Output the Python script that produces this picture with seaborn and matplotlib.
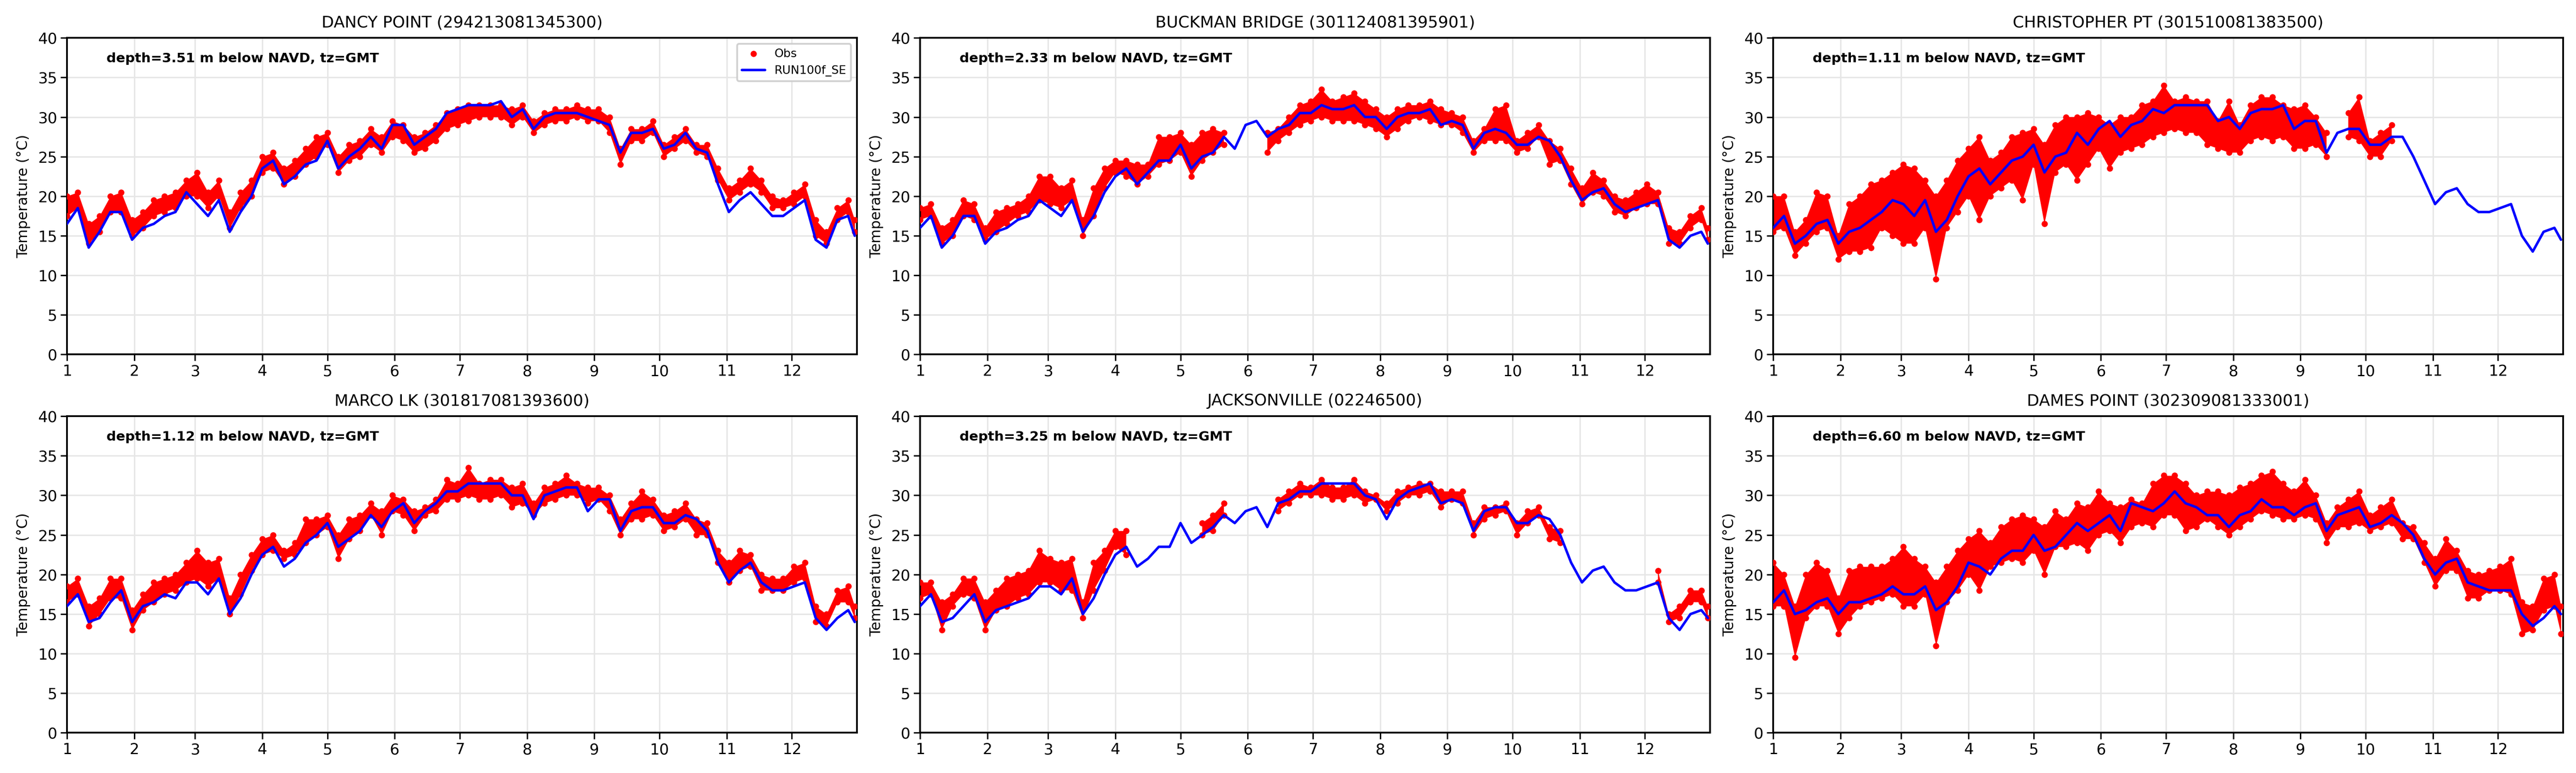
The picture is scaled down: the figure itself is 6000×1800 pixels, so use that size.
import numpy as np
import pandas as pd
import matplotlib
matplotlib.use('Agg')
import matplotlib.pyplot as plt
import matplotlib.dates as mdates
import matplotlib.ticker as mticker
import seaborn as sns

nan = np.nan

# Sample days (day of year, 0 = Jan 1), 5-day spacing
days = list(range(0, 361, 5)) + [363]

station_names = ['DANCY POINT (294213081345300)', 'BUCKMAN BRIDGE (301124081395901)',
                 'CHRISTOPHER PT (301510081383500)', 'MARCO LK (301817081393600)',
                 'JACKSONVILLE (02246500)', 'DAMES POINT (302309081333001)']
depths = [3.51, 2.33, 1.11, 1.12, 3.25, 6.60]

# ---- Dancy Point
dancy_model = [16.5, 18.5, 13.5, 15.5, 18, 18, 14.5, 16, 16.5, 17.5,
               18, 20.5, 19, 17.5, 19.5, 15.5, 18, 20, 23.5, 24.5,
               21.5, 22.5, 24, 24.5, 27, 23.5, 25, 26, 27.5, 26,
               29, 29, 26.5, 27.5, 28.5, 30.5, 31, 31.5, 31.5, 31.5,
               32, 30, 31, 28.5, 30, 30.5, 30.5, 30.5, 30, 29.5,
               29, 25.5, 28, 28, 28.5, 26, 26.5, 28, 26, 25.5,
               21.5, 18, 19.5, 20.5, 19, 17.5, 17.5, 18.5, 19.5, 14.5,
               13.5, 17, 17.5, 15]
dancy_obs_lo = [17.5, 18.5, 14, 15.5, 18, 18, 15, 16, 17.5, 18,
                18.5, 20, 20, 18.5, 20, 16, 18.5, 20, 23, 23.5,
                21.5, 22.5, 24, 25, 26.5, 23, 24.5, 25, 26.5, 25.5,
                27.5, 27, 25.5, 26, 27, 28.5, 29, 29.5, 30, 30,
                30, 29, 30, 28, 29, 29.5, 29.5, 30, 29.5, 29.5,
                28, 24, 27, 27, 28, 25, 26, 27, 25.5, 25,
                22, 19.5, 20.5, 21.5, 20.5, 18.5, 18.5, 19, 20, 15,
                14, 17, 18, 15.5]
dancy_obs_hi = [20, 20.5, 16.5, 17.5, 20, 20.5, 17, 18, 19.5, 20,
                20.5, 22, 23, 20.5, 22, 18, 20.5, 22, 25, 25.5,
                23.5, 24.5, 26, 27.5, 28, 25, 26.5, 27, 28.5, 27.5,
                29.5, 29, 27.5, 28, 29, 30.5, 31, 31.5, 31.5, 31.5,
                31.5, 31, 31.5, 29.5, 30.5, 31, 31, 31.5, 31, 31,
                30, 26, 28.5, 28.5, 29.5, 26.5, 27.5, 28.5, 26.5, 26.5,
                23.5, 21, 22, 23.5, 22, 20, 19.5, 20.5, 21.5, 17,
                15.5, 18.5, 19.5, 17]

# ---- Buckman Bridge
buckman_model = [16, 17.5, 13.5, 15, 17.5, 17.5, 14, 15.5, 16, 17,
                 17.5, 19.5, 18.5, 17.5, 19.5, 15.5, 17.5, 20.5, 22.5, 23.5,
                 21.5, 23, 24.5, 24.5, 26.5, 23.5, 25, 25.5, 27.5, 26,
                 29, 29.5, 27.5, 28.5, 29, 30.5, 30.5, 31.5, 31, 31,
                 31.5, 30, 30, 28.5, 30, 30.5, 30.5, 31, 29, 29.5,
                 29, 26, 28, 28.5, 28, 26.5, 26.5, 27.5, 27, 25,
                 22, 19.5, 20.5, 21, 19, 18, 18.5, 19, 19.5, 14.5,
                 13.5, 15, 15.5, 14]
buckman_obs_lo = [17, 17.5, 14, 15, 17.5, 17, 14.5, 15.5, 16.5, 17.5,
                  18, 19.5, 19, 18.5, 19.5, 15, 17.5, 21, 23, 22.5,
                  21.5, 22.5, 24, 24.5, 25.5, 22.5, 24.5, 25.5, 26.5, nan,
                  nan, nan, 25.5, 27, 28, 29, 29.5, 30, 29.5, 29.5,
                  29.5, 29, 28.5, 27.5, 28.5, 29.5, 30, 29.5, 29, 29,
                  28, 25.5, 27, 27, 27, 25.5, 26, 27.5, 24, 24.5,
                  21.5, 19, 20.5, 20, 18, 17.5, 18.5, 19, 19, 14,
                  14, 16, 17, 14.5]
buckman_obs_hi = [18.5, 19, 16, 17, 19.5, 19, 16, 18, 18.5, 19,
                  20, 22.5, 22.5, 21, 22, 17, 21, 23.5, 24.5, 24.5,
                  24, 24, 27.5, 27.5, 28, 26.5, 28, 28.5, 28, nan,
                  nan, nan, 28, 28.5, 30, 31.5, 32, 33.5, 32, 32.5,
                  33, 32, 31, 30, 31, 31.5, 31.5, 32, 31, 30.5,
                  30, 27, 28.5, 31, 31.5, 27, 28, 29, 27, 26,
                  23.5, 21, 23, 22, 20, 19.5, 20.5, 21.5, 20.5, 16,
                  15.5, 17.5, 18.5, 16]

# ---- Christopher Pt
christopher_model = [16, 17.5, 14, 15, 16.5, 17, 14, 15.5, 16, 17,
                     18, 19.5, 19, 17.5, 19.5, 15.5, 17, 20, 22.5, 23.5,
                     21.5, 23, 24.5, 25, 26.5, 23, 25, 25.5, 28, 26.5,
                     28.5, 29.5, 27.5, 29, 29.5, 31, 30.5, 31.5, 31.5, 31.5,
                     31.5, 29.5, 30, 28.5, 30.5, 31, 31, 31.5, 28.5, 29.5,
                     29.5, 25.5, 28, 28.5, 28.5, 26.5, 26.5, 27.5, 27.5, 25,
                     22, 19, 20.5, 21, 19, 18, 18, 18.5, 19, 15,
                     13, 15.5, 16, 14.5]
christopher_obs_lo = [15.5, 16, 12.5, 14, 15.5, 16, 12, 13, 13, 13.5,
                      16, 15, 14, 14, 16, 9.5, 16, 18, 20, 17,
                      20, 21, 22, 19.5, 24, 16.5, 23, 24, 22, 24,
                      26, 23.5, 25.5, 26, 26.5, 27.5, 28, 28.5, 28, 28,
                      26.5, 26, 25.5, 25.5, 27, 27.5, 27, 27.5, 26, 26,
                      26.5, 25, nan, 27.5, 27, 25, 25, 27, nan, nan,
                      nan, nan, nan, nan, nan, nan, nan, nan, nan, nan,
                      nan, nan, nan, nan]
christopher_obs_hi = [20, 20, 15.5, 17, 20.5, 20, 15, 19, 20, 21.5,
                      22, 23, 24, 23.5, 22, 20, 22, 24.5, 26, 27.5,
                      24.5, 25.5, 27.5, 28, 28.5, 26.5, 29, 30, 30, 30.5,
                      30, 29, 30, 30, 31.5, 32, 34, 32, 32.5, 32,
                      32, 29.5, 32, 29, 31.5, 32.5, 32.5, 31.5, 31, 31.5,
                      30, 28, nan, 30.5, 32.5, 27, 28, 29, nan, nan,
                      nan, nan, nan, nan, nan, nan, nan, nan, nan, nan,
                      nan, nan, nan, nan]

# ---- Marco Lk
marco_model = [16, 17.5, 14, 14.5, 16.5, 18, 14, 16, 16.5, 17.5,
               17, 19, 19, 17.5, 19.5, 15, 17, 20, 22.5, 23.5,
               21, 22, 24, 25, 26.5, 23.5, 24.5, 25.5, 27.5, 26,
               28, 29, 26.5, 28, 29, 30.5, 30.5, 31.5, 31.5, 31.5,
               31.5, 30, 30, 27, 30, 30.5, 31, 31, 28, 29.5,
               29.5, 25.5, 28, 28.5, 28.5, 26.5, 26.5, 27.5, 27, 25.5,
               21.5, 19, 20.5, 21.5, 19, 18, 18, 18.5, 19, 14.5,
               13, 14.5, 15.5, 14]
marco_obs_lo = [16.5, 17.5, 13.5, 15, 17, 17, 13, 15.5, 16.5, 17.5,
                18, 19, 19.5, 18.5, 19.5, 15, 17.5, 20.5, 22.5, 23,
                22, 22.5, 24, 25, 26, 22, 24.5, 25.5, 27.5, 25,
                28, 27.5, 25.5, 27.5, 28, 29.5, 29.5, 30, 29.5, 29.5,
                30, 28.5, 29, 27.5, 29, 29.5, 30, 30, 29, 29.5,
                28, 25, 27, 27, 27.5, 25.5, 26, 27, 25, 25,
                21.5, 19, 20.5, 21, 18, 18, 18, 19, 19.5, 14,
                13.5, 16.5, 16.5, 14.5]
marco_obs_hi = [18.5, 19.5, 16, 17, 19.5, 19.5, 15.5, 17.5, 19, 19.5,
                20, 21.5, 23, 21.5, 22, 17, 20, 22.5, 24.5, 25,
                23, 24, 27, 27, 27.5, 25, 27, 27.5, 29, 28,
                30, 29.5, 28, 28.5, 29.5, 32, 31.5, 33.5, 31.5, 32,
                32, 31, 31.5, 29, 31, 31.5, 32.5, 31.5, 31, 31,
                30, 27, 29, 30.5, 29.5, 27.5, 28, 29, 27, 26.5,
                23, 21.5, 23, 22.5, 20, 19.5, 19.5, 21, 21.5, 16,
                15, 18, 18.5, 16]

# ---- Jacksonville
jax_model = [16, 17.5, 14, 14.5, 16, 17.5, 14, 15.5, 16, 16.5,
             17, 18.5, 18.5, 17.5, 19.5, 15, 17, 20, 22.5, 23.5,
             21, 22, 23.5, 23.5, 26.5, 24, 25, 26, 27.5, 26.5,
             28, 28.5, 26, 29, 29.5, 30.5, 30.5, 31.5, 31.5, 31.5,
             31.5, 30, 29.5, 27, 29.5, 30.5, 31, 31.5, 29, 29.5,
             29, 25.5, 28, 28.5, 28.5, 26.5, 26.5, 27.5, 27, 25,
             21.5, 19, 20.5, 21, 19, 18, 18, 18.5, 19, 14.5,
             13, 15, 15.5, 14.5]
jax_obs_lo = [17, 17.5, 13, 16, 17.5, 17, 13, 15.5, 16, 17,
              17.5, 19, 19, 18, 18, 14.5, 18, 20.5, 23.5, 22.5,
              nan, nan, nan, nan, nan, nan, 25, 25.5, 27.5, nan,
              nan, nan, nan, 28, 29, 30, 30, 30, 29.5, 29.5,
              30, 29, 29.5, 28, 29, 30, 30, 30.5, 28.5, 29.5,
              29, 25, 27, 27.5, 28, 25, 26.5, 27.5, 24.5, 24,
              nan, nan, nan, nan, nan, nan, nan, nan, 19, 14,
              14.5, 16.5, 16.5, 14.5]
jax_obs_hi = [19, 19, 16.5, 17.5, 19.5, 19.5, 16.5, 18, 19.5, 20,
              20.5, 23, 22, 21.5, 22, 16.5, 21.5, 23, 25.5, 25.5,
              nan, nan, nan, nan, nan, nan, 26.5, 27.5, 29, nan,
              nan, nan, nan, 29.5, 30.5, 31.5, 31, 32, 31, 31,
              32, 30.5, 30, 29, 30.5, 31, 31.5, 31.5, 30.5, 30.5,
              30.5, 26.5, 28.5, 28.5, 29, 26.5, 28, 28.5, 26, 25.5,
              nan, nan, nan, nan, nan, nan, nan, nan, 20.5, 15,
              16, 18, 18, 16]

# ---- Dames Point
dames_model = [16.5, 18, 15, 15.5, 16.5, 17, 15, 16.5, 16.5, 17,
               17.5, 18.5, 17.5, 17.5, 18.5, 15.5, 16.5, 18.5, 21.5, 21,
               20, 22, 23, 23, 25, 23, 23.5, 25, 26.5, 25.5,
               26.5, 27.5, 25.5, 29, 28.5, 28, 29, 30.5, 29, 28.5,
               27.5, 27.5, 26, 27.5, 28, 29.5, 28.5, 28.5, 27.5, 28.5,
               29, 25.5, 27.5, 28, 28.5, 26, 26.5, 27.5, 26.5, 25,
               22, 20, 21.5, 22, 19, 18.5, 18, 18, 18, 15,
               13.5, 14.5, 16, 15]
dames_obs_lo = [16, 16, 9.5, 14.5, 16, 16, 12.5, 14.5, 16, 16.5,
                17, 17.5, 16, 16, 17.5, 11, 16.5, 18, 20, 18,
                21, 21.5, 22, 21.5, 23, 20, 23.5, 23.5, 24, 23,
                25, 25.5, 24, 26, 26.5, 26, 27.5, 27.5, 25.5, 26,
                27, 26, 25, 26, 27, 28, 27.5, 27, 27, 27.5,
                27, 24, 26, 26, 26.5, 25.5, 26, 26.5, 24.5, 24.5,
                21.5, 18.5, 20.5, 20.5, 17, 17, 18, 18, 17.5, 12.5,
                13, 15.5, 16, 12.5]
dames_obs_hi = [21.5, 20, 16, 20, 21.5, 20.5, 17, 20.5, 21, 21,
                21, 22, 23.5, 22, 21, 19, 21, 23, 24.5, 25.5,
                24, 26, 27, 27.5, 27, 26, 28, 27, 29, 28.5,
                30.5, 29, 28.5, 29.5, 29, 31.5, 32.5, 32.5, 31.5, 30,
                30.5, 30.5, 30, 31, 31.5, 32.5, 33, 31.5, 30.5, 32,
                30, 26.5, 28.5, 29.5, 30.5, 27.5, 28.5, 29.5, 26.5, 26,
                24, 22, 24.5, 23, 20.5, 20, 20.5, 21, 22, 16.5,
                16, 19.5, 20, 16]

models = [dancy_model, buckman_model, christopher_model, marco_model, jax_model, dames_model]
obs_lo = [dancy_obs_lo, buckman_obs_lo, christopher_obs_lo, marco_obs_lo, jax_obs_lo, dames_obs_lo]
obs_hi = [dancy_obs_hi, buckman_obs_hi, christopher_obs_hi, marco_obs_hi, jax_obs_hi, dames_obs_hi]

dates = pd.Timestamp('2018-01-01') + pd.to_timedelta(days, unit='D')

sns.set_theme(style='whitegrid', font='DejaVu Sans', rc={
    'axes.edgecolor': 'black',
    'axes.linewidth': 1.0,
    'grid.color': '#e6e6e6',
    'grid.linewidth': 0.8,
    'xtick.bottom': True,
    'ytick.left': True,
    'xtick.color': 'black',
    'ytick.color': 'black',
    'text.color': 'black',
    'axes.labelcolor': 'black',
    'xtick.labelsize': 8.5,
    'ytick.labelsize': 8.5,
})

fig, axes = plt.subplots(2, 3, figsize=(20, 6), dpi=300)
plt.subplots_adjust(left=0.026, right=0.995, bottom=0.052, top=0.951, wspace=0.08, hspace=0.195)

for i, ax in enumerate(axes.flat):
    df = pd.DataFrame({'time': dates, 'model': models[i], 'lo': obs_lo[i], 'hi': obs_hi[i]})

    # observed band (tidal spread) plus its edge points
    ax.fill_between(df['time'], df['lo'], df['hi'], color='red', linewidth=0, zorder=2)
    pts = pd.concat([df[['time', 'lo']].rename(columns={'lo': 'temp'}),
                     df[['time', 'hi']].rename(columns={'hi': 'temp'})]).dropna()
    sns.scatterplot(data=pts, x='time', y='temp', color='red', s=12, linewidth=0,
                    ax=ax, label='Obs', zorder=3)
    sns.lineplot(data=df, x='time', y='model', color='blue', linewidth=1.4,
                 ax=ax, label='RUN100f_SE', zorder=4)

    ax.set_xlim(pd.Timestamp('2018-01-01'), pd.Timestamp('2018-12-31'))
    ax.xaxis.set_major_locator(mdates.MonthLocator())
    ax.xaxis.set_major_formatter(mticker.FuncFormatter(lambda v, p: str(mdates.num2date(v).month)))
    ax.set_ylim(0, 40)
    ax.set_yticks(range(0, 41, 5))
    ax.set_xlabel('')
    ax.set_ylabel('Temperature (°C)', fontsize=8)
    ax.set_title(station_names[i], fontsize=9)
    ax.tick_params(axis='both', length=3.5, width=0.8, pad=2)
    ax.text(0.05, 0.935, f'depth={depths[i]:.2f} m below NAVD, tz=GMT', transform=ax.transAxes,
            fontsize=7.5, fontweight='bold', va='center', ha='left')

    if i == 0:
        ax.legend(loc='upper right', fontsize=6.5, frameon=True, edgecolor='#cccccc',
                  framealpha=0.9)
    else:
        ax.get_legend().remove()

fig.savefig('out.png', dpi=300)
